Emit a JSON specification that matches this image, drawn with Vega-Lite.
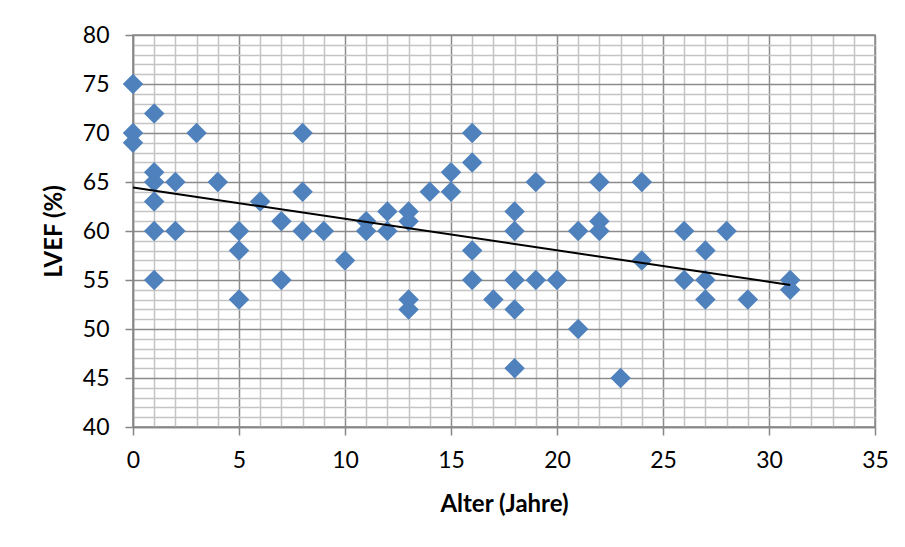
{
  "$schema": "https://vega.github.io/schema/vega-lite/v6.json",
  "width": 742,
  "height": 392,
  "autosize": {"type": "none"},
  "padding": {"left": 133, "top": 35, "right": 30, "bottom": 120},
  "background": "white",
  "config": {
    "view": {"stroke": "#868686", "strokeWidth": 1.5},
    "font": "Lato",
    "axis": {
      "labelFont": "Lato",
      "labelFontSize": 23,
      "labelColor": "#000000",
      "titleFont": "Lato",
      "titleFontSize": 24,
      "titleFontWeight": "bold",
      "titleColor": "#000000",
      "domainColor": "#868686",
      "domainWidth": 1.5,
      "tickSize": 8,
      "tickWidth": 1.5,
      "gridWidth": 1.5
    }
  },
  "datasets": {
    "points": [
      {"alter": 0, "lvef": 75}, {"alter": 0, "lvef": 70}, {"alter": 0, "lvef": 69},
      {"alter": 1, "lvef": 72}, {"alter": 1, "lvef": 66}, {"alter": 1, "lvef": 65}, {"alter": 1, "lvef": 63}, {"alter": 1, "lvef": 60}, {"alter": 1, "lvef": 55},
      {"alter": 2, "lvef": 65}, {"alter": 2, "lvef": 60},
      {"alter": 3, "lvef": 70},
      {"alter": 4, "lvef": 65},
      {"alter": 5, "lvef": 60}, {"alter": 5, "lvef": 58}, {"alter": 5, "lvef": 53},
      {"alter": 6, "lvef": 63},
      {"alter": 7, "lvef": 61}, {"alter": 7, "lvef": 55},
      {"alter": 8, "lvef": 70}, {"alter": 8, "lvef": 64}, {"alter": 8, "lvef": 60},
      {"alter": 9, "lvef": 60},
      {"alter": 10, "lvef": 57},
      {"alter": 11, "lvef": 61}, {"alter": 11, "lvef": 60},
      {"alter": 12, "lvef": 62}, {"alter": 12, "lvef": 60},
      {"alter": 13, "lvef": 62}, {"alter": 13, "lvef": 61}, {"alter": 13, "lvef": 53}, {"alter": 13, "lvef": 52},
      {"alter": 14, "lvef": 64},
      {"alter": 15, "lvef": 66}, {"alter": 15, "lvef": 64},
      {"alter": 16, "lvef": 70}, {"alter": 16, "lvef": 67}, {"alter": 16, "lvef": 58}, {"alter": 16, "lvef": 55},
      {"alter": 17, "lvef": 53},
      {"alter": 18, "lvef": 62}, {"alter": 18, "lvef": 60}, {"alter": 18, "lvef": 55}, {"alter": 18, "lvef": 52}, {"alter": 18, "lvef": 46},
      {"alter": 19, "lvef": 65}, {"alter": 19, "lvef": 55},
      {"alter": 20, "lvef": 55},
      {"alter": 21, "lvef": 60}, {"alter": 21, "lvef": 50},
      {"alter": 22, "lvef": 65}, {"alter": 22, "lvef": 61}, {"alter": 22, "lvef": 60},
      {"alter": 23, "lvef": 45},
      {"alter": 24, "lvef": 65}, {"alter": 24, "lvef": 57},
      {"alter": 26, "lvef": 60}, {"alter": 26, "lvef": 55},
      {"alter": 27, "lvef": 58}, {"alter": 27, "lvef": 55}, {"alter": 27, "lvef": 53},
      {"alter": 28, "lvef": 60},
      {"alter": 29, "lvef": 53},
      {"alter": 31, "lvef": 55}, {"alter": 31, "lvef": 54}
    ],
    "trend": [
      {"alter": 0, "lvef": 64.45},
      {"alter": 31, "lvef": 54.5}
    ]
  },
  "layer": [
    {
      "data": {"name": "points"},
      "mark": {"type": "point", "shape": "diamond", "filled": true, "size": 420, "color": "#4F81BD", "opacity": 1},
      "encoding": {
        "x": {
          "field": "alter", "type": "quantitative",
          "scale": {"domain": [0, 35], "nice": false, "zero": false},
          "axis": {
            "title": "Alter (Jahre)",
            "titlePadding": 20,
            "tickCount": 200,
            "format": "d",
            "values": [0,1,2,3,4,5,6,7,8,9,10,11,12,13,14,15,16,17,18,19,20,21,22,23,24,25,26,27,28,29,30,31,32,33,34,35],
            "labelExpr": "datum.value % 5 === 0 ? datum.label : ''",
            "labelPadding": 14,
            "labelFlush": false,
            "labelOverlap": false,
            "grid": true,
            "gridColor": {"condition": {"test": "datum.value % 5 === 0", "value": "#8C8C8C"}, "value": "#C4C4C4"},
            "tickColor": {"condition": {"test": "datum.value % 5 === 0", "value": "#868686"}, "value": "transparent"}
          }
        },
        "y": {
          "field": "lvef", "type": "quantitative",
          "scale": {"domain": [40, 80], "nice": false, "zero": false},
          "axis": {
            "title": "LVEF (%)",
            "titlePadding": 16,
            "tickCount": 200,
            "format": "d",
            "values": [40,41,42,43,44,45,46,47,48,49,50,51,52,53,54,55,56,57,58,59,60,61,62,63,64,65,66,67,68,69,70,71,72,73,74,75,76,77,78,79,80],
            "labelExpr": "datum.value % 5 === 0 ? datum.label : ''",
            "labelPadding": 16,
            "labelFlush": false,
            "labelOverlap": false,
            "grid": true,
            "gridColor": {"condition": {"test": "datum.value % 5 === 0", "value": "#8C8C8C"}, "value": "#C4C4C4"},
            "tickColor": {"condition": {"test": "datum.value % 5 === 0", "value": "#868686"}, "value": "transparent"}
          }
        }
      }
    },
    {
      "data": {"name": "trend"},
      "mark": {"type": "line", "color": "#000000", "strokeWidth": 2},
      "encoding": {
        "x": {"field": "alter", "type": "quantitative"},
        "y": {"field": "lvef", "type": "quantitative"}
      }
    }
  ]
}
